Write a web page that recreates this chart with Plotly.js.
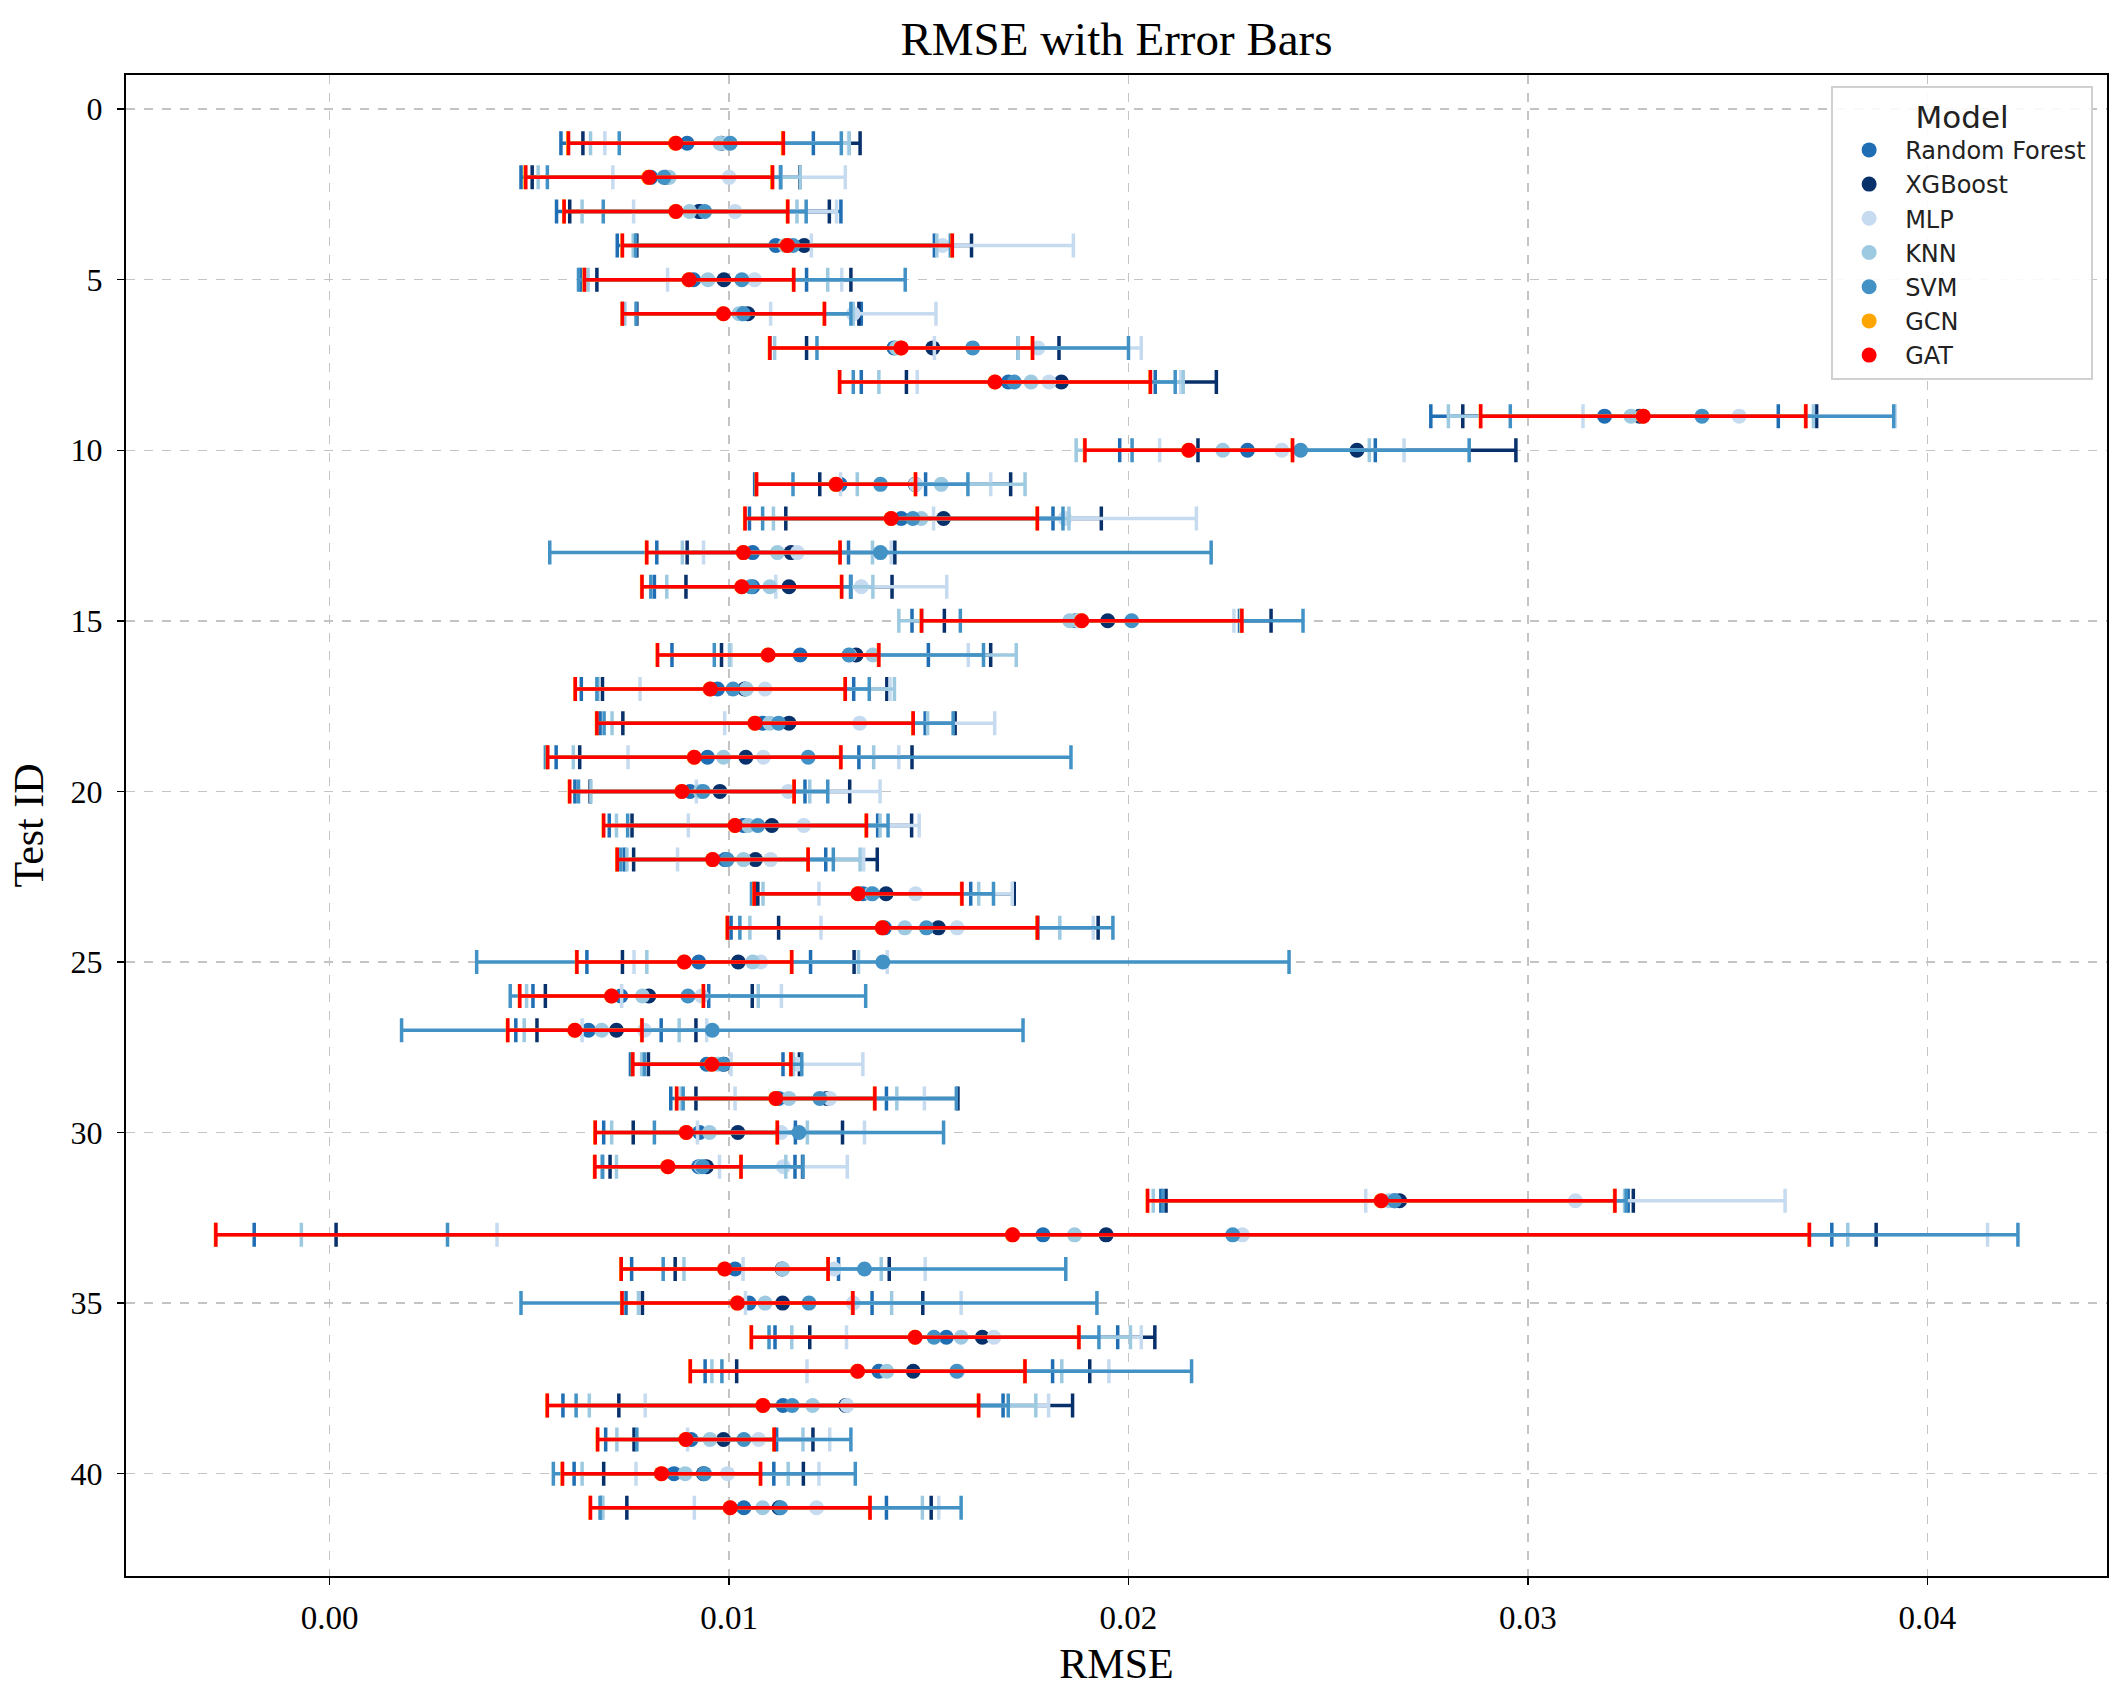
<!DOCTYPE html>
<html>
<head>
<meta charset="utf-8">
<script src="https://cdn.plot.ly/plotly-3.0.1.min.js"></script>
<style>html,body{margin:0;padding:0;background:#fff;}#chart{width:2127px;height:1691px;}</style>
</head>
<body>
<div id="chart"></div>
<script>
const testIds = [1,2,3,4,5,6,7,8,9,10,11,12,13,14,15,16,17,18,19,20,21,22,23,24,25,26,27,28,29,30,31,32,33,34,35,36,37,38,39,40,41];
const modelNames = ["Random Forest","XGBoost","MLP","KNN","SVM","GCN","GAT"];
const xTickVals = [0,0.01,0.02,0.03,0.04];
const xTickText = ["0.00","0.01","0.02","0.03","0.04"];
const yTickVals = [0,5,10,15,20,25,30,35,40];

const rfMean = [0.00895,0.00804,0.00924,0.01117,0.00911,0.01032,0.01413,0.01699,0.03192,0.02298,0.01278,0.01431,0.01059,0.01059,0.01868,0.01178,0.00971,0.01084,0.00946,0.00902,0.01036,0.0099,0.01335,0.01389,0.00924,0.00729,0.00648,0.00944,0.01124,0.00926,0.00924,0.02666,0.01786,0.01015,0.0105,0.01544,0.01375,0.01135,0.00905,0.00862,0.01037];
const rfErr = [0.00316,0.00325,0.00356,0.00397,0.00283,0.00299,0.00311,0.00368,0.00435,0.0032,0.00214,0.0038,0.0024,0.00246,0.0041,0.00321,0.00341,0.00407,0.00379,0.00288,0.00336,0.00252,0.0027,0.00384,0.0028,0.0022,0.00182,0.00191,0.0027,0.0024,0.00241,0.00585,0.01975,0.00259,0.00308,0.00429,0.00435,0.00551,0.00214,0.0025,0.00357];

const xgbMean = [0.00981,0.00842,0.00926,0.01188,0.00987,0.01047,0.0151,0.01832,0.0328,0.02572,0.01466,0.01537,0.01155,0.0115,0.01948,0.01318,0.01039,0.0115,0.01042,0.00977,0.01107,0.01066,0.01393,0.01524,0.01023,0.00799,0.00718,0.00987,0.01245,0.01022,0.00943,0.02679,0.01944,0.01133,0.01134,0.01634,0.01461,0.01292,0.00986,0.00936,0.01125];
const xgbErr = [0.00347,0.00335,0.00325,0.00419,0.00318,0.00278,0.00316,0.00388,0.00443,0.00398,0.00239,0.00395,0.0026,0.00258,0.00409,0.00337,0.00356,0.00416,0.00416,0.00325,0.0035,0.00305,0.00321,0.004,0.0029,0.00259,0.00199,0.00189,0.00328,0.00262,0.00241,0.00585,0.01928,0.00268,0.00351,0.00432,0.00442,0.00568,0.00224,0.0025,0.00381];

const mlpMean = [0.00994,0.0100,0.01015,0.01534,0.01064,0.01311,0.01773,0.01801,0.03529,0.02384,0.01467,0.01841,0.01171,0.01331,0.01874,0.01302,0.0109,0.01327,0.01086,0.01148,0.01187,0.01104,0.01467,0.01571,0.01079,0.00931,0.00788,0.0117,0.01252,0.0113,0.01136,0.03119,0.02285,0.01263,0.01311,0.01663,0.01573,0.01295,0.01074,0.00996,0.01219];
const mlpErr = [0.00305,0.00291,0.00254,0.00328,0.00218,0.00207,0.00259,0.0033,0.00391,0.00306,0.00188,0.00329,0.00235,0.00214,0.0039,0.00297,0.00313,0.00338,0.00339,0.0023,0.00289,0.00233,0.00242,0.00341,0.00317,0.002,0.00156,0.00165,0.00237,0.00209,0.0016,0.00525,0.01866,0.00228,0.0027,0.00369,0.00378,0.00505,0.00178,0.00229,0.00306];

const knnMean = [0.00977,0.0085,0.00901,0.0114,0.00947,0.01025,0.01419,0.01756,0.03258,0.02236,0.01531,0.01481,0.01121,0.01102,0.01853,0.0136,0.01043,0.01102,0.00986,0.00928,0.01048,0.01036,0.01355,0.0144,0.01059,0.00783,0.00681,0.00971,0.0115,0.00951,0.0093,0.02652,0.01865,0.01134,0.0109,0.01581,0.01395,0.01209,0.00952,0.0089,0.01084];
const knnErr = [0.00324,0.00328,0.00269,0.0038,0.003,0.00286,0.00305,0.00381,0.00457,0.00367,0.0021,0.0037,0.00238,0.00258,0.00428,0.00359,0.00371,0.00395,0.00376,0.00274,0.0033,0.00292,0.0027,0.00388,0.00265,0.0029,0.00194,0.0019,0.0027,0.00245,0.00212,0.0059,0.01936,0.00247,0.00317,0.00424,0.00438,0.00559,0.00233,0.00258,0.004];

const svmMean = [0.01003,0.00837,0.00939,0.0116,0.01032,0.01036,0.0161,0.01714,0.03436,0.02431,0.01379,0.0146,0.01379,0.01054,0.02008,0.013,0.0101,0.01124,0.01198,0.00935,0.01072,0.00995,0.01359,0.01494,0.01385,0.00897,0.00958,0.00985,0.01227,0.01175,0.00934,0.02666,0.02261,0.01339,0.012,0.01513,0.0157,0.01158,0.01037,0.00938,0.01129];
const svmErr = [0.00278,0.00292,0.00254,0.00394,0.00409,0.00269,0.0039,0.00403,0.0048,0.00422,0.00219,0.00376,0.00828,0.0025,0.00429,0.00337,0.00341,0.00437,0.00658,0.00312,0.00326,0.00266,0.00303,0.00467,0.01017,0.00445,0.00778,0.00197,0.00342,0.00362,0.00251,0.0058,0.01966,0.00504,0.00721,0.00413,0.00588,0.00541,0.00268,0.00378,0.00452];

const gcnMean = [0.00865,0.00798,0.00866,0.01145,0.00899,0.00985,0.0143,0.01665,0.03288,0.0215,0.01267,0.01405,0.01035,0.01031,0.01882,0.01097,0.00952,0.01064,0.00912,0.00881,0.01014,0.00958,0.01322,0.01383,0.00887,0.00705,0.00613,0.00956,0.01116,0.00892,0.00846,0.02632,0.01709,0.00988,0.0102,0.01465,0.01321,0.01084,0.00891,0.0083,0.01002];
const gcnErr = [0.00269,0.00309,0.0028,0.00413,0.00262,0.00253,0.00329,0.00389,0.00407,0.0026,0.00199,0.00366,0.00242,0.0025,0.00401,0.00277,0.00338,0.00396,0.00367,0.00281,0.00329,0.00239,0.0026,0.00388,0.00269,0.0023,0.00168,0.00198,0.00248,0.00228,0.00183,0.00585,0.01995,0.00259,0.00289,0.0041,0.00419,0.0054,0.00221,0.00248,0.0035];

const gatMean = [0.00867,0.0080,0.00867,0.01146,0.0090,0.00986,0.01431,0.01666,0.03289,0.02151,0.01268,0.01406,0.01036,0.01032,0.01883,0.01098,0.00953,0.01065,0.00913,0.00882,0.01015,0.00959,0.01323,0.01384,0.00888,0.00706,0.00614,0.00957,0.01117,0.00893,0.00847,0.02633,0.0171,0.00989,0.01021,0.01466,0.01322,0.01085,0.00892,0.00831,0.01003];
const gatErr = [0.00269,0.00309,0.0028,0.00413,0.00262,0.00253,0.00329,0.00389,0.00407,0.0026,0.00199,0.00366,0.00242,0.0025,0.00401,0.00277,0.00338,0.00396,0.00367,0.00281,0.00329,0.00239,0.0026,0.00388,0.00269,0.0023,0.00168,0.00198,0.00248,0.00228,0.00183,0.00585,0.01995,0.00259,0.00289,0.0041,0.00419,0.0054,0.00221,0.00248,0.0035];

const modelColors = ["#1f6db3","#08306b","#c6dbef","#9ecae1","#4292c6","#ffa500","#ff0000"];
const means = [rfMean,xgbMean,mlpMean,knnMean,svmMean,gcnMean,gatMean];
const errs = [rfErr,xgbErr,mlpErr,knnErr,svmErr,gcnErr,gatErr];

const traces = modelNames.map((name,i)=>({
  type:'scatter', mode:'markers', name:name,
  x: means[i], y: testIds,
  marker:{color:modelColors[i], size:15, symbol:'circle'},
  error_x:{type:'data', array: errs[i], visible:true, color:modelColors[i], thickness:3.5, width:12}
}));

const serif = "Liberation Serif, Times New Roman, serif";
const layout = {
  width:2127, height:1691,
  paper_bgcolor:'#ffffff', plot_bgcolor:'#ffffff',
  margin:{l:126, r:20, t:75, b:115},
  title:{text:'RMSE with Error Bars', font:{family:serif, size:47, color:'#000'}, x:0.5, xref:'paper', xanchor:'center', y:0.977, yref:'container', yanchor:'middle'},
  xaxis:{
    range:[-0.0051,0.0445], tickvals:xTickVals, ticktext:xTickText,
    title:{text:'RMSE', font:{family:serif, size:42, color:'#000'}, standoff:14},
    tickfont:{family:serif, size:33, color:'#000'},
    showgrid:true, gridcolor:'#c4c4c4', griddash:'dash', gridwidth:1.4,
    zeroline:false, showline:true, linecolor:'#000', linewidth:2, mirror:true,
    ticks:'outside', ticklen:7, tickwidth:1.5, tickcolor:'#000', ticklabelstandoff:4
  },
  yaxis:{
    range:[43,-1], tickvals:yTickVals,
    title:{text:'Test ID', font:{family:serif, size:42, color:'#000'}, standoff:14},
    tickfont:{family:serif, size:32, color:'#000'},
    showgrid:true, gridcolor:'#c4c4c4', griddash:'dash', gridwidth:1.4,
    zeroline:false, showline:true, linecolor:'#000', linewidth:2, mirror:true,
    ticks:'outside', ticklen:7, tickwidth:1.5, tickcolor:'#000', ticklabelstandoff:8
  },
  legend:{
    x:0.993, y:0.993, xanchor:'right', yanchor:'top',
    bgcolor:'rgba(255,255,255,0.9)', bordercolor:'#d0d0d0', borderwidth:2,
    font:{family:'DejaVu Sans, sans-serif', size:24, color:'#222'},
    title:{text:'Model', side:'top center', font:{family:'DejaVu Sans, sans-serif', size:31, color:'#222'}},
    itemwidth:62
  },
  showlegend:true
};

Plotly.newPlot('chart', traces, layout, {displayModeBar:false, staticPlot:true});
</script>
</body>
</html>
